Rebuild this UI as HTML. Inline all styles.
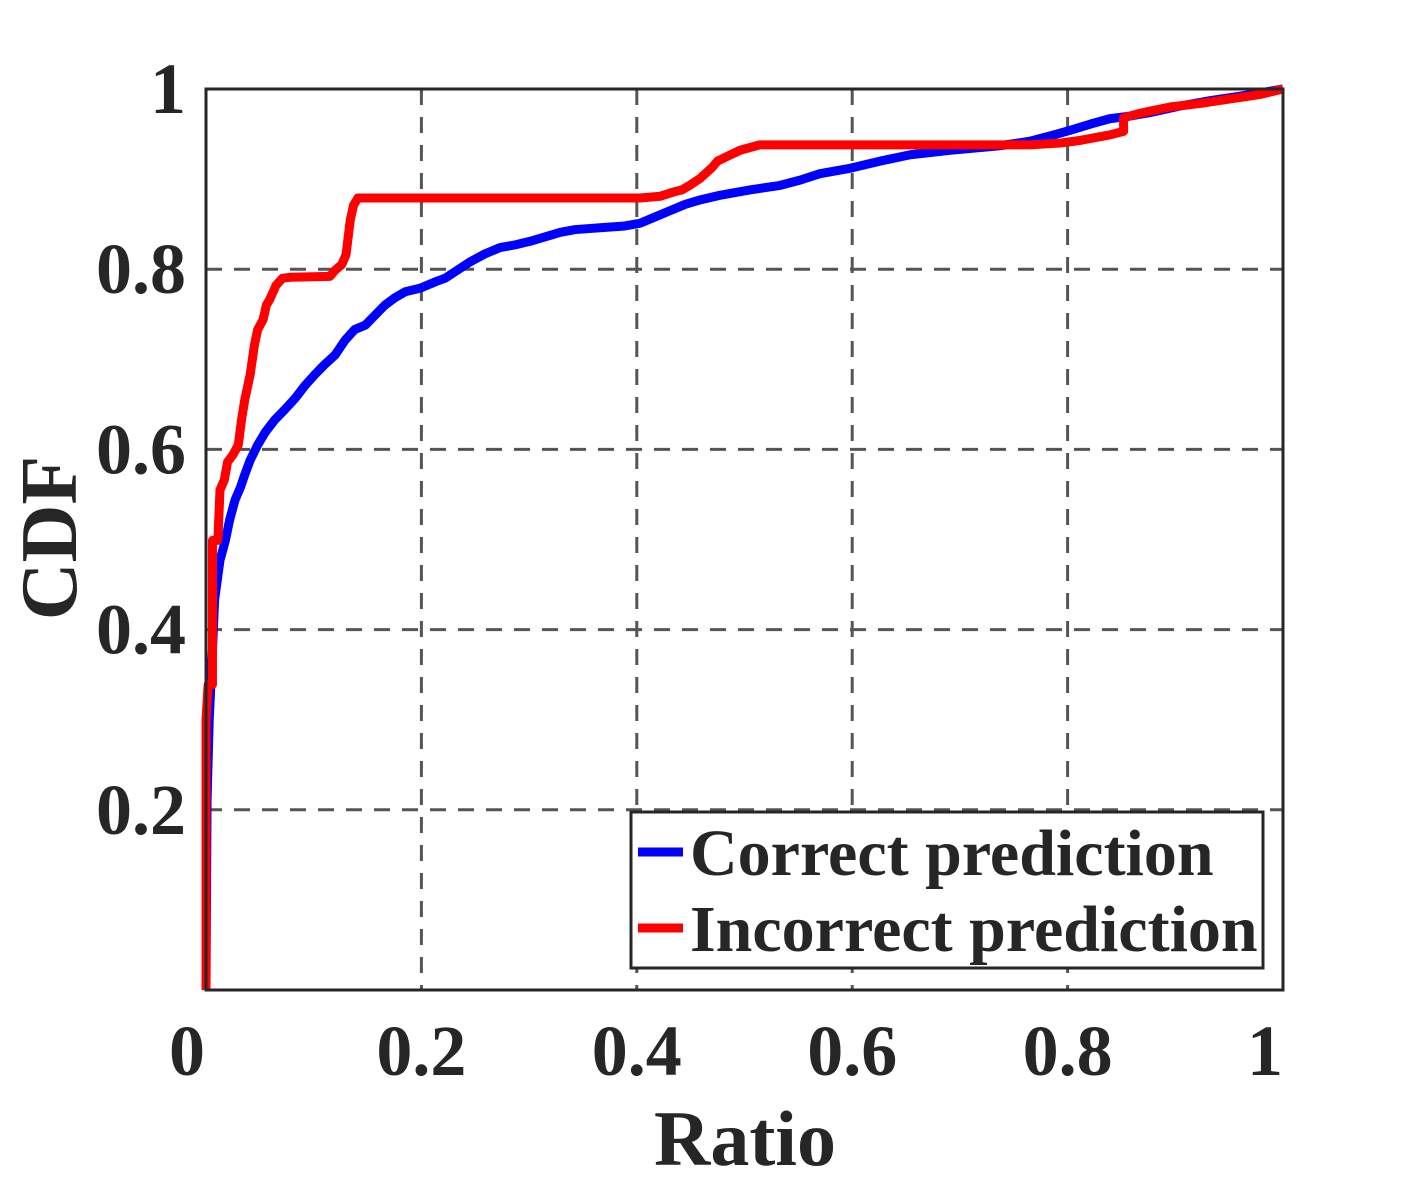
<!DOCTYPE html>
<html><head><meta charset="utf-8"><style>
body{margin:0;background:#fff}
svg{display:block}
text{font-family:"Liberation Serif",serif;font-weight:bold;fill:#262626}
</style></head><body>
<svg id="chart" width="1417" height="1181" viewBox="0 0 1417 1181">
<g id="grid"></g>
<g id="series"></g>
<rect x="206" y="89" width="1077" height="901" fill="none" stroke="#262626" stroke-width="3"/>
<g id="ticks"></g>
<text x="745" y="1165" font-size="78" text-anchor="middle">Ratio</text>
<text transform="translate(76,538) rotate(-90)" font-size="80" text-anchor="middle">CDF</text>
<g>
<rect x="631" y="812" width="632" height="156" fill="#fff" stroke="#262626" stroke-width="3"/>
<line x1="638" y1="852" x2="683" y2="852" stroke="#0000ff" stroke-width="9"/>
<text x="690" y="875" font-size="66">Correct prediction</text>
<line x1="638" y1="928" x2="683" y2="928" stroke="#ff0000" stroke-width="9"/>
<text x="690" y="951" font-size="66">Incorrect prediction</text>
</g>
</svg>
<script>
const xTicks=[0,0.2,0.4,0.6,0.8,1];
const xTickLabels=["0","0.2","0.4","0.6","0.8","1"];
const yTicks=[0.2,0.4,0.6,0.8,1];
const yTickLabels=["0.2","0.4","0.6","0.8","1"];
const correctX=[0,0.001,0.003,0.006,0.008,0.013,0.018,0.022,0.027,0.032,0.036,0.041,0.048,0.055,0.064,0.073,0.083,0.092,0.101,0.110,0.120,0.129,0.138,0.148,0.157,0.166,0.175,0.185,0.199,0.213,0.222,0.231,0.245,0.259,0.273,0.287,0.301,0.315,0.329,0.343,0.366,0.389,0.403,0.417,0.431,0.445,0.459,0.477,0.505,0.533,0.552,0.570,0.598,0.626,0.654,0.691,0.737,0.765,0.784,0.802,0.821,0.839,0.858,0.877,0.904,0.932,0.960,1];
const correctY=[0,0.211,0.300,0.377,0.433,0.477,0.499,0.522,0.544,0.558,0.572,0.588,0.605,0.619,0.633,0.644,0.657,0.671,0.683,0.694,0.705,0.721,0.733,0.738,0.749,0.760,0.768,0.775,0.779,0.786,0.790,0.797,0.808,0.817,0.824,0.827,0.831,0.836,0.841,0.844,0.846,0.848,0.851,0.858,0.865,0.872,0.877,0.882,0.888,0.893,0.899,0.906,0.912,0.920,0.927,0.932,0.937,0.942,0.948,0.954,0.961,0.967,0.970,0.974,0.981,0.987,0.992,1];
const incorrectX=[0,0,0.002,0.006,0.006,0.011,0.013,0.017,0.020,0.025,0.030,0.033,0.036,0.041,0.045,0.048,0.053,0.056,0.059,0.065,0.071,0.078,0.115,0.120,0.126,0.130,0.134,0.137,0.141,0.403,0.422,0.435,0.442,0.449,0.459,0.470,0.475,0.487,0.496,0.514,0.765,0.793,0.812,0.839,0.852,0.852,0.867,0.895,0.923,0.951,0.979,1];
const incorrectY=[0,0.300,0.339,0.339,0.499,0.499,0.555,0.566,0.586,0.594,0.605,0.633,0.655,0.683,0.716,0.733,0.744,0.760,0.766,0.782,0.790,0.791,0.792,0.799,0.805,0.816,0.855,0.871,0.879,0.879,0.881,0.886,0.888,0.893,0.901,0.913,0.920,0.927,0.932,0.938,0.938,0.940,0.943,0.949,0.953,0.968,0.973,0.980,0.984,0.989,0.994,1];
const L=206,R=1283,T=89,B=990;
const sx=v=>L+v*(R-L), sy=v=>B-v*(B-T);
const NS="http://www.w3.org/2000/svg";
function mk(tag,attrs,parent){const e=document.createElementNS(NS,tag);for(const k in attrs)e.setAttribute(k,attrs[k]);parent.appendChild(e);return e;}
const grid=document.getElementById('grid'),ticks=document.getElementById('ticks'),series=document.getElementById('series');
xTicks.forEach((t,i)=>{
  if(t>0&&t<1){const g=mk('line',{x1:sx(t),x2:sx(t),y1:T,y2:B,stroke:'#555','stroke-width':3,'stroke-dasharray':'16,12'},grid);
  
  }
  const tx=mk('text',{x:sx(t)-(t===0?19:0)+(t===1?-18:0),y:1075,'font-size':72,'text-anchor':'middle'},ticks);tx.textContent=xTickLabels[i];
  
  
});
yTicks.forEach((t,i)=>{
  if(t<1){const g=mk('line',{x1:L,x2:R,y1:sy(t),y2:sy(t),stroke:'#555','stroke-width':3,'stroke-dasharray':'16,12'},grid);
  
  }
  const tx=mk('text',{x:186,y:sy(t)+24,'font-size':72,'text-anchor':'end'},ticks);tx.textContent=yTickLabels[i];
  
  
});
function line(xs,ys,color){return mk('polyline',{points:xs.map((x,i)=>sx(x)+','+sy(ys[i])).join(' '),fill:'none',stroke:color,'stroke-width':9,'stroke-linejoin':'round'},series);}
const c=line(correctX,correctY,'#0000ff');


const r=line(incorrectX,incorrectY,'#ff0000');


</script>
</body></html>
